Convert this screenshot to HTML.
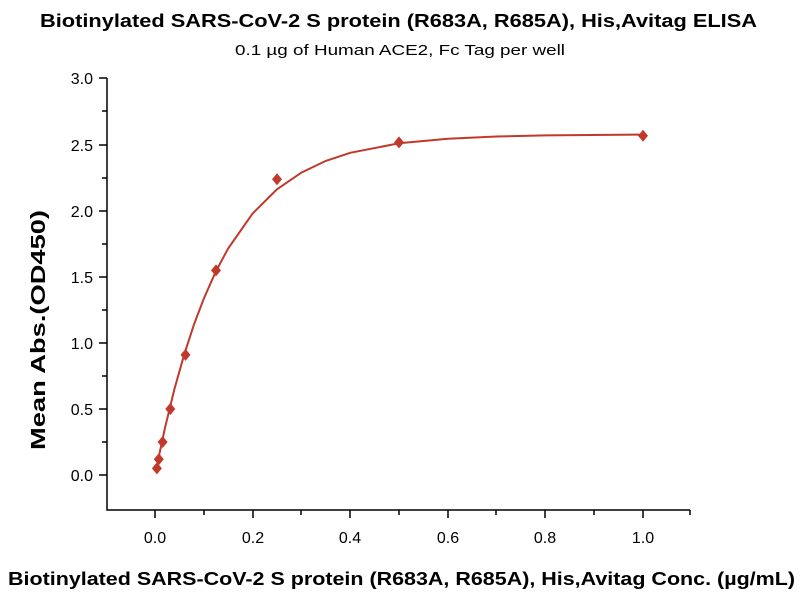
<!DOCTYPE html>
<html><head><style>body{margin:0;background:#fff}svg{display:block}</style></head><body>
<svg width="800" height="600" xmlns="http://www.w3.org/2000/svg" xmlns:xlink="http://www.w3.org/1999/xlink" font-family="Liberation Sans, DejaVu Sans, sans-serif">
<defs><path id="d" d="M0,-6L5,0L0,6L-5,0Z" fill="#c0392b"/></defs>
<text x="40" y="27" font-size="18" font-weight="bold" textLength="717" lengthAdjust="spacingAndGlyphs">Biotinylated SARS-CoV-2 S protein (R683A, R685A), His,Avitag ELISA</text>
<text x="235" y="55" font-size="15" textLength="330" lengthAdjust="spacingAndGlyphs">0.1 µg of Human ACE2, Fc Tag per well</text>
<g stroke="#000" stroke-width="1.5" fill="none">
<path d="M107,78 V510 H690"/>
<path d="M99,78H107M99,145H107M99,211H107M99,277H107M99,343H107M99,409H107M99,475H107"/>
<path d="M102,111H107M102,178H107M102,244H107M102,310H107M102,376H107M102,442H107"/>
<path d="M155,510V518M253,510V518M350,510V518M448,510V518M545,510V518M643,510V518"/>
<path d="M204,510V515M301,510V515M399,510V515M496,510V515M594,510V515M690,510V515"/>
</g>
<g font-size="16" text-anchor="end">
<text x="93" y="84">3.0</text><text x="93" y="151">2.5</text><text x="93" y="217">2.0</text><text x="93" y="283">1.5</text><text x="93" y="349">1.0</text><text x="93" y="415">0.5</text><text x="93" y="481">0.0</text>
</g>
<g font-size="16" text-anchor="middle">
<text x="155" y="543">0.0</text><text x="253" y="543">0.2</text><text x="350" y="543">0.4</text><text x="448" y="543">0.6</text><text x="545" y="543">0.8</text><text x="643" y="543">1.0</text>
</g>
<text x="8" y="585" font-size="18" font-weight="bold" textLength="787" lengthAdjust="spacingAndGlyphs">Biotinylated SARS-CoV-2 S protein (R683A, R685A), His,Avitag Conc. (µg/mL)</text>
<text transform="translate(45,330) rotate(-90)" text-anchor="middle" font-size="20" font-weight="bold" textLength="240" lengthAdjust="spacingAndGlyphs">Mean Abs.(OD450)</text>
<polyline fill="none" stroke="#c0392b" stroke-width="2" points="157,465.2 164.8,428.7 174.5,388.8 184.3,354.2 194,324.4 203.8,298.6 216,271.1 228.2,248.4 252.6,213.5 277,189.3 301.4,172.6 325.8,160.9 350.2,152.8 399,143.3 447.8,138.7 496.6,136.5 545.4,135.4 643,134.6"/>
<use xlink:href="#d" x="156.9" y="468.4"/>
<use xlink:href="#d" x="158.8" y="459.2"/>
<use xlink:href="#d" x="162.6" y="442"/>
<use xlink:href="#d" x="170.3" y="409"/>
<use xlink:href="#d" x="185.5" y="354.9"/>
<use xlink:href="#d" x="216" y="270.4"/>
<use xlink:href="#d" x="277" y="179.3"/>
<use xlink:href="#d" x="399" y="142.4"/>
<use xlink:href="#d" x="643" y="135.8"/>
</svg>
</body></html>
